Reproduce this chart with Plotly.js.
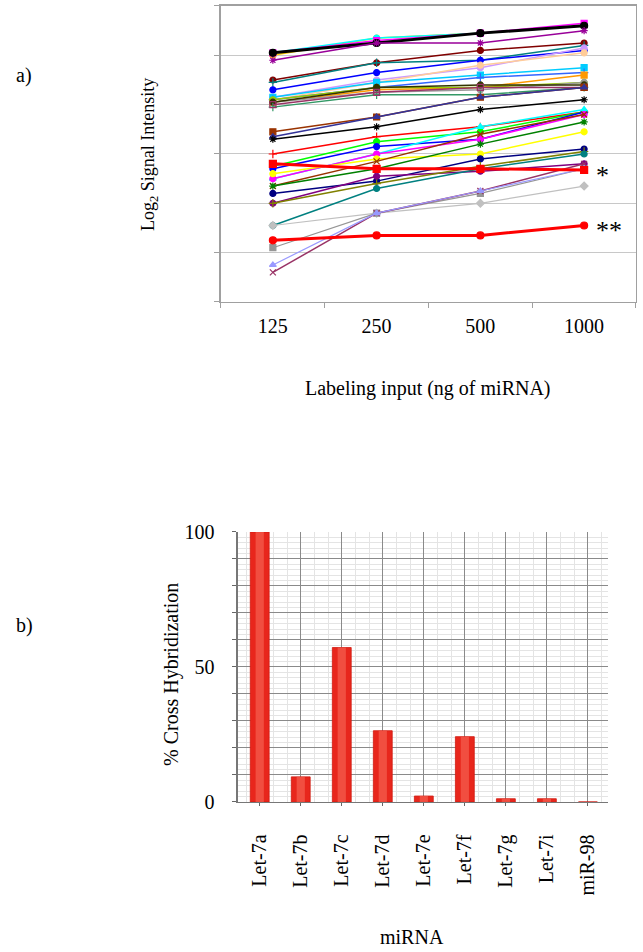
<!DOCTYPE html>
<html>
<head>
<meta charset="utf-8">
<script src="https://cdn.plot.ly/plotly-3.0.1.min.js"></script>
<style>
  body { margin: 0; background: #fff; }
  #chart { width: 643px; height: 952px; }
</style>
</head>
<body>
<div id="chart"></div>
<script>
// ---- panel a: log2 signal vs labeling input ----
const inputs = ["125", "250", "500", "1000"];

// one entry per probe, styles kept in parallel arrays
const probeNames = [
  "p01","p02","p03","p04","p05","p06","p07","p08","p09","p10",
  "p11","p12","p13","p14","p15","p16","p17","p18","p19","p20",
  "p21","p22","p23","p24","p25","p26","p27","p28","p29","p30",
  "p31","p32","p33","p34","p35","p36","p37","p38","p39"
];
const probeColors = [
  "#ffcc00","#00ffff","#ff00ff","#000000","#990099",
  "#800000","#008080","#0000ff","#cc99ff","#ffcc99",
  "#00ccff","#3366ff","#ff9900","#99cc00","#999999",
  "#333300","#339966","#993366","#993300","#333399",
  "#000000","#ff0000","#00ff00","#0000ff","#00ffff",
  "#ff00ff","#ffff00","#993300","#008000","#000080",
  "#800080","#808000","#008080","#c0c0c0","#969696",
  "#993366","#9999ff","#ff0000","#ff0000"
];
const probeSymbols = [
  "circle","circle","square","circle","asterisk-open",
  "circle","cross-thin-open","circle","circle","circle",
  "square","cross-thin-open","square","circle","circle",
  "circle","cross-thin-open","square-open","square","triangle-up",
  "asterisk-open","cross-thin-open","circle","circle","triangle-up",
  "circle","circle","x-thin-open","asterisk-open","circle",
  "circle","cross-thin-open","circle","diamond","square",
  "x-thin-open","triangle-up","square","circle"
];
const probeWidths = [
  1.5,1.5,1.5,3,1.5, 1.5,1.5,1.5,1.5,1.5,
  1.5,1.5,1.5,1.5,1.5, 1.5,1.5,1.5,1.5,1.5,
  1.5,1.5,1.5,1.5,1.5, 1.5,1.5,1.5,1.5,1.5,
  1.5,1.5,1.5,1.2,1.2, 1.5,1.2,3,3
];
const probeValues = [
  [16.0,16.7,16.9,17.2],[16.1,16.7,16.9,17.2],[16.1,16.6,16.9,17.3],[16.1,16.5,16.9,17.2],[15.8,16.5,16.5,17.0],
  [15.0,15.7,16.2,16.5],[14.9,15.7,15.8,16.4],[14.6,15.3,15.8,16.2],[14.3,15.0,15.5,16.3],[14.2,14.9,15.6,16.1],
  [14.3,14.9,15.2,15.5],[14.2,14.7,15.1,15.3],[14.1,14.6,14.7,15.2],[14.2,14.7,14.7,14.9],[14.1,14.5,14.6,14.9],
  [14.1,14.7,14.8,14.8],[13.9,14.4,14.4,14.7],[14.0,14.5,14.7,14.7],[12.9,13.5,14.3,14.7],[12.7,13.5,14.3,14.7],
  [12.6,13.1,13.8,14.2],[12.0,12.7,13.1,13.7],[11.5,12.5,12.9,13.7],[11.4,12.3,12.6,13.7],[11.0,12.0,13.1,13.8],
  [11.0,12.0,12.6,13.6],[11.2,11.8,12.0,12.9],[10.7,11.7,12.8,13.6],[10.7,11.4,12.4,13.3],[10.4,10.9,11.8,12.2],
  [10.0,11.1,11.3,11.6],[10.0,10.8,11.5,12.1],[9.1,10.6,11.4,12.0],[9.1,9.6,10.0,10.7],[8.2,9.6,10.4,11.4],
  [7.2,9.6,10.5,11.6],[7.5,9.6,10.5,11.4],[11.6,11.4,11.4,11.35],[8.5,8.7,8.7,9.1]
];

// ---- panel b: cross hybridization ----
const mirnas = ["Let-7a","Let-7b","Let-7c","Let-7d","Let-7e","Let-7f","Let-7g","Let-7i","miR-98"];
const crossHyb = [100, 9.3, 57.2, 26.4, 2.2, 24.2, 1.2, 1.2, 0];

const serif = "Liberation Serif";

const traces = probeValues.map(function(vals, i){
  return {
    x: inputs, y: vals, name: probeNames[i], type: "scatter", mode: "lines+markers",
    xaxis: "x", yaxis: "y",
    line: {color: probeColors[i], width: probeWidths[i]},
    marker: {symbol: probeSymbols[i], size: probeWidths[i] > 2 ? 7 : 6, color: probeColors[i],
             line: {color: probeColors[i], width: 1.2}},
    showlegend: false
  };
});

const barX = mirnas.map(function(m, i){ return i; });
traces.push({
  x: barX, y: crossHyb, type: "bar", xaxis: "x2", yaxis: "y2", width: 0.46,
  marker: {color: "#e8261c", line: {color: "#d01a10", width: 0.8}}, showlegend: false
});
// lighter stripe down the middle of each bar (same data) for the shaded look
traces.push({
  x: barX, y: crossHyb, type: "bar", xaxis: "x2", yaxis: "y2", width: 0.2,
  marker: {color: "rgba(245,95,80,0.7)", line: {width: 0}}, showlegend: false, hoverinfo: "skip"
});

function note(text, x, y, size, angle){
  return {text: text, xref: "paper", yref: "paper", x: x/643, y: (952-y)/952,
          textangle: angle || 0, xanchor: "center", yanchor: "middle", showarrow: false,
          font: {family: serif, size: size, color: "#000"}};
}

const layout = {
  width: 643, height: 952,
  margin: {l: 0, r: 0, t: 0, b: 0},
  paper_bgcolor: "#fff", plot_bgcolor: "#fff",
  font: {family: serif, size: 20, color: "#000"},
  barmode: "overlay",
  xaxis: {
    domain: [0.3437, 0.9891], anchor: "y", type: "category",
    range: [-0.5, 3.5], tickson: "boundaries", ticks: "outside", ticklen: 5,
    tickcolor: "#a0a0a0", showline: true, linecolor: "#a0a0a0", linewidth: 1.5, mirror: true,
    showgrid: false, tickfont: {family: serif, size: 20}, ticklabelstandoff: 6
  },
  yaxis: {
    domain: [0.6828, 0.9937], anchor: "x", range: [6, 18], dtick: 2,
    showticklabels: false, ticks: "outside", ticklen: 5, tickcolor: "#a0a0a0",
    showline: true, linecolor: "#a0a0a0", linewidth: 1.5, mirror: true,
    showgrid: true, gridcolor: "#c8c8c8", gridwidth: 1, zeroline: false
  },
  xaxis2: {
    domain: [0.3701, 0.9456], anchor: "y2", range: [-0.53, 8.49],
    tickvals: barX, ticktext: mirnas, tickangle: -90, ticks: "outside", ticklen: 3,
    tickcolor: "#666", showline: true, linecolor: "#777", linewidth: 1.5,
    showgrid: true, gridcolor: "#8a8a8a", gridwidth: 1, zeroline: false,
    minor: {dtick: 1/3, tick0: 0, showgrid: true, gridcolor: "#e4e4e4", gridwidth: 1},
    tickfont: {family: serif, size: 20}, ticklabelstandoff: 20
  },
  yaxis2: {
    domain: [0.1576, 0.4412], anchor: "x2", range: [0, 100],
    tickvals: [0,10,20,30,40,50,60,70,80,90,100],
    ticktext: ["0","","","","","50","","","","","100"],
    ticks: "outside", ticklen: 4, tickcolor: "#666",
    showline: true, linecolor: "#777", linewidth: 1.5,
    showgrid: true, gridcolor: "#8a8a8a", gridwidth: 1, zeroline: false,
    minor: {dtick: 2, showgrid: true, gridcolor: "#e4e4e4", gridwidth: 1},
    tickfont: {family: serif, size: 20}, ticklabelstandoff: 14
  },
  annotations: [
    note("a)", 24, 75, 20),
    note("b)", 24, 625, 20),
    note("Log<sub>2</sub> Signal Intensity", 150, 155, 18, -90),
    note("Labeling input (ng of miRNA)", 428, 388, 20),
    note("% Cross Hybridization", 172, 675, 20, -90),
    note("miRNA", 412, 937, 20),
    {text: "*", xref: "x", yref: "y", x: 3, y: probeValues[37][3], xanchor: "left", yanchor: "middle",
     xshift: 10, yshift: -5, showarrow: false, font: {family: serif, size: 26, color: "#000"}},
    {text: "**", xref: "x", yref: "y", x: 3, y: probeValues[38][3], xanchor: "left", yanchor: "middle",
     xshift: 10, yshift: -5, showarrow: false, font: {family: serif, size: 26, color: "#000"}}
  ]
};

Plotly.newPlot("chart", traces, layout, {displayModeBar: false, staticPlot: true});
</script>
</body>
</html>
